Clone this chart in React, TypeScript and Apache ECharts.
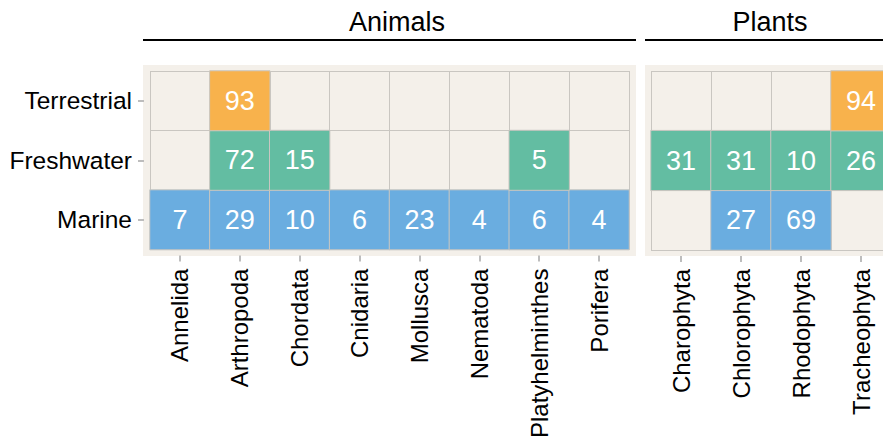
import React, { useEffect, useRef } from "react";
import * as echarts from "echarts";

const habitats = ["Marine", "Freshwater", "Terrestrial"];
const animalPhyla = ["Annelida", "Arthropoda", "Chordata", "Cnidaria", "Mollusca", "Nematoda", "Platyhelminthes", "Porifera"];
const plantPhyla = ["Charophyta", "Chlorophyta", "Rhodophyta", "Tracheophyta"];

const animalTerrestrial = [null, 93, null, null, null, null, null, null];
const animalFreshwater = [null, 72, 15, null, null, null, 5, null];
const animalMarine = [7, 29, 10, 6, 23, 4, 6, 4];

const plantTerrestrial = [null, null, null, 94];
const plantFreshwater = [31, 31, 10, 26];
const plantMarine = [null, 27, 69, null];

const habitatColors = ["#6AADE0", "#63BDA2", "#F8B24C"]; // Marine, Freshwater, Terrestrial

const FONT = "'Liberation Sans', Arial, Helvetica, sans-serif";
const BG = "#F4F0EA";
const LINE = "#C9C6C1";

function buildData(byHabitat: Record<string, (number | null)[]>) {
  const out: any[] = [];
  habitats.forEach((h, yi) => {
    byHabitat[h].forEach((v, xi) => {
      if (v !== null) out.push([xi, yi, v, yi]);
    });
  });
  return out;
}

export default function App() {
  const ref = useRef<HTMLDivElement>(null);
  useEffect(() => {
    if (!ref.current) return;
    const chart = echarts.init(ref.current, null, { renderer: "svg" });

    const top = 71;
    const cell = 60;
    const h = cell * 3 - 1;
    const g0 = { left: 150, width: 479 };
    const g1 = { left: 651, width: 240 };
    const pad = 6;

    const xAxisCommon = (data: string[], gridIndex: number) => ({
      type: "category",
      gridIndex,
      data,
      offset: pad,
      axisLine: { show: false },
      axisTick: { show: true, alignWithLabel: true, length: 6, lineStyle: { color: "#BDBDBD", width: 2 } },
      axisLabel: { rotate: 90, fontSize: 24, color: "#000", fontFamily: FONT, margin: 13 },
      splitLine: { show: true, interval: 0, lineStyle: { color: LINE, width: 1 } },
    });

    const labelCfg = {
      show: true,
      color: "#fff",
      fontSize: 27,
      fontFamily: FONT,
      formatter: (p: any) => String(p.value[2]),
    };

    const option: any = {
      animation: false,
      visualMap: {
        type: "piecewise",
        show: false,
        dimension: 3,
        seriesIndex: [0, 1],
        pieces: habitats.map((_, i) => ({ value: i, color: habitatColors[i] })),
      },
      grid: [
        { left: g0.left, top, width: g0.width, height: h },
        { left: g1.left, top, width: g1.width, height: h },
      ],
      xAxis: [xAxisCommon(animalPhyla, 0), xAxisCommon(plantPhyla, 1)],
      yAxis: [
        {
          type: "category",
          gridIndex: 0,
          data: habitats,
          offset: pad,
          axisLine: { show: false },
          axisTick: { show: true, alignWithLabel: true, length: 6, lineStyle: { color: "#BDBDBD", width: 2 } },
          axisLabel: { fontSize: 24.5, color: "#000", fontFamily: FONT, margin: 12 },
          splitLine: { show: true, interval: 0, lineStyle: { color: LINE, width: 1 } },
        },
        {
          type: "category",
          gridIndex: 1,
          data: habitats,
          axisLine: { show: false },
          axisTick: { show: false },
          axisLabel: { show: false },
          splitLine: { show: true, interval: 0, lineStyle: { color: LINE, width: 1 } },
        },
      ],
      graphic: [
        { type: "rect", z: -10, silent: true, shape: { x: g0.left - pad - 1, y: top - pad, width: g0.width + 2 * pad + 2, height: h + 2 * pad }, style: { fill: BG } },
        { type: "rect", z: -10, silent: true, shape: { x: g1.left - pad, y: top - pad, width: g1.width + 2 * pad, height: h + 2 * pad }, style: { fill: BG } },
        { type: "line", shape: { x1: g0.left - pad - 1, y1: 40, x2: g0.left + g0.width + pad + 1, y2: 40 }, style: { stroke: "#000", lineWidth: 2 } },
        { type: "line", shape: { x1: g1.left - pad, y1: 40, x2: g1.left + g1.width + pad, y2: 40 }, style: { stroke: "#000", lineWidth: 2 } },
        { type: "text", x: 397, y: 22, style: { text: "Animals", fontSize: 27, fontFamily: FONT, fill: "#000", align: "center", verticalAlign: "middle" } },
        { type: "text", x: 770, y: 22, style: { text: "Plants", fontSize: 27, fontFamily: FONT, fill: "#000", align: "center", verticalAlign: "middle" } },
      ],
      series: [
        {
          type: "heatmap",
          xAxisIndex: 0,
          yAxisIndex: 0,
          data: buildData({ Terrestrial: animalTerrestrial, Freshwater: animalFreshwater, Marine: animalMarine }),
          itemStyle: { borderColor: LINE, borderWidth: 1 },
          label: labelCfg,
          emphasis: { disabled: true },
        },
        {
          type: "heatmap",
          xAxisIndex: 1,
          yAxisIndex: 1,
          data: buildData({ Terrestrial: plantTerrestrial, Freshwater: plantFreshwater, Marine: plantMarine }),
          itemStyle: { borderColor: LINE, borderWidth: 1 },
          label: labelCfg,
          emphasis: { disabled: true },
        },
      ],
    };
    chart.setOption(option);
    return () => chart.dispose();
  }, []);

  return (
    <div style={{ position: "fixed", left: 0, top: 0, width: 883, height: 441, overflow: "hidden", background: "#fff" }}>
      <div ref={ref} style={{ width: 930, height: 441 }} />
    </div>
  );
}
